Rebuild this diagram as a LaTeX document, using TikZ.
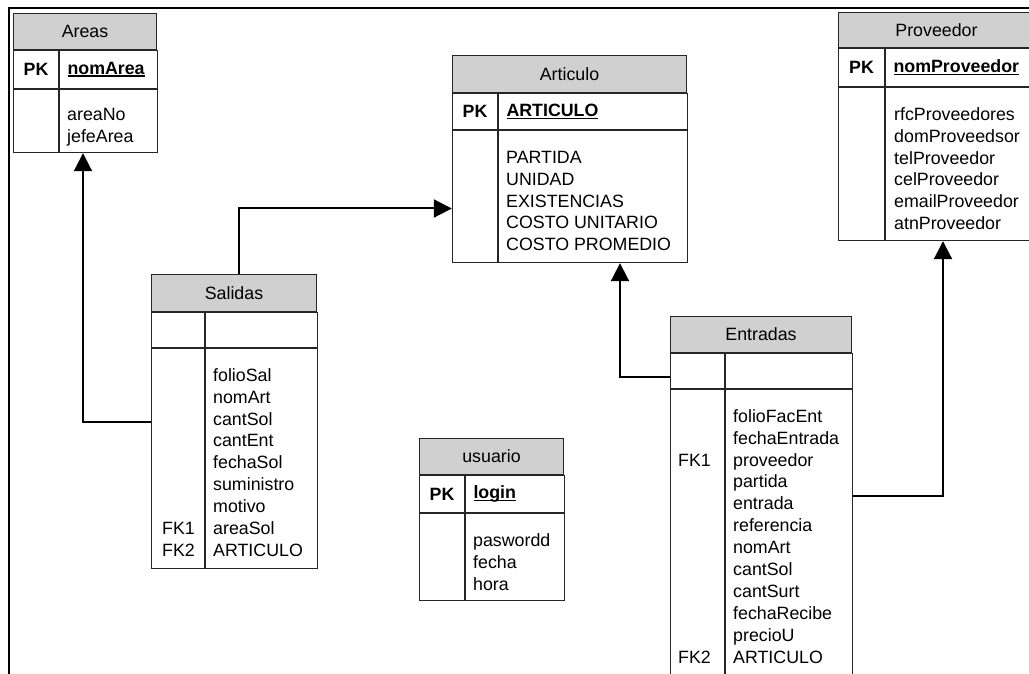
\documentclass[tikz,border=0pt]{standalone}
\usepackage{fontspec}
\setmainfont{Liberation Sans}
\usetikzlibrary{positioning,fit,arrows.meta}
\definecolor{headgray}{RGB}{208,208,208}
\newcommand{\pkfield}[1]{\setbox0=\hbox{\bfseries#1}\rlap{\rule[-2.6pt]{\wd0}{1.5pt}}\box0}

\begin{document}
\begin{tikzpicture} [
       x=1pt, y=-1pt,
       font=\fontsize{17.8pt}{21.9pt}\selectfont,
       header/.style={draw=black!85, fill=headgray, line width=1pt, inner sep=0pt, anchor=north west},
       cell/.style={draw=black!85, line width=1pt, inner sep=0pt},
       keycell/.style={cell, align=left, inner xsep=8pt},
       fields/.style={align=left, inner sep=0pt},
       tablebox/.style={inner sep=0pt},
       line/.style={draw, line width=2pt, -{Triangle[length=18pt, width=18pt]}},
       ]
       \useasboundingbox (0,0) rectangle (1029,674);
       \draw[line width=2pt] (9,674) -- (9,8) -- (1029,8);

       \node (areas) [header, minimum width=143pt, minimum height=36pt] at (13,13) {Areas};
       \node (areas-pk) [cell, minimum width=45pt, minimum height=38pt, below right=0pt and 0pt of areas.south west] {\textbf{PK}};
       \node (areas-key) [keycell, text width=82pt, minimum height=38pt, right=0pt of areas-pk] {\pkfield{nomArea}};
       \node (areas-fk) [cell, minimum width=45pt, minimum height=63pt, below=0pt of areas-pk] {};
       \node (areas-attr) [cell, minimum width=98pt, minimum height=63pt, below=0pt of areas-key] {};
       \node (areas-list) [fields, below right=16pt and 8pt of areas-attr.north west] {\strut areaNo\\jefeArea};
       \node (areas-box) [tablebox, fit=(areas)(areas-fk)(areas-attr)] {};

       \node (articulo) [header, minimum width=234pt, minimum height=37pt] at (452,55) {Articulo};
       \node (articulo-pk) [cell, minimum width=45pt, minimum height=36pt, below right=0pt and 0pt of articulo.south west] {\textbf{PK}};
       \node (articulo-key) [keycell, text width=173pt, minimum height=36pt, right=0pt of articulo-pk] {\pkfield{ARTICULO}};
       \node (articulo-fk) [cell, minimum width=45pt, minimum height=132pt, below=0pt of articulo-pk] {};
       \node (articulo-attr) [cell, minimum width=189pt, minimum height=132pt, below=0pt of articulo-key] {};
       \node (articulo-list) [fields, below right=17.7pt and 8pt of articulo-attr.north west] {\strut PARTIDA\\UNIDAD\\EXISTENCIAS\\COSTO UNITARIO\\COSTO PROMEDIO};
       \node (articulo-box) [tablebox, fit=(articulo)(articulo-fk)(articulo-attr)] {};

       \node (proveedor) [header, minimum width=196pt, minimum height=35pt] at (838,12) {Proveedor};
       \node (proveedor-pk) [cell, minimum width=46pt, minimum height=38pt, below right=0pt and 0pt of proveedor.south west] {\textbf{PK}};
       \node (proveedor-key) [keycell, text width=134pt, minimum height=38pt, right=0pt of proveedor-pk] {\pkfield{nomProveedor}};
       \node (proveedor-fk) [cell, minimum width=46pt, minimum height=153pt, below=0pt of proveedor-pk] {};
       \node (proveedor-attr) [cell, minimum width=150pt, minimum height=153pt, below=0pt of proveedor-key] {};
       \node (proveedor-list) [fields, below right=17.7pt and 9pt of proveedor-attr.north west] {\strut rfcProveedores\\domProveedsor\\telProveedor\\celProveedor\\emailProveedor\\atnProveedor};
       \node (proveedor-box) [tablebox, fit=(proveedor)(proveedor-fk)(proveedor-attr)] {};

       \node (usuario) [header, minimum width=144pt, minimum height=36pt] at (419,438) {usuario};
       \node (usuario-pk) [cell, minimum width=45pt, minimum height=37pt, below right=0pt and 0pt of usuario.south west] {\textbf{PK}};
       \node (usuario-key) [keycell, text width=83pt, minimum height=37pt, right=0pt of usuario-pk] {\pkfield{login}};
       \node (usuario-fk) [cell, minimum width=45pt, minimum height=87pt, below=0pt of usuario-pk] {};
       \node (usuario-attr) [cell, minimum width=99pt, minimum height=87pt, below=0pt of usuario-key] {};
       \node (usuario-list) [fields, below right=17.7pt and 8pt of usuario-attr.north west] {\strut paswordd\\fecha\\hora};

       \node (salidas) [header, minimum width=165pt, minimum height=37pt] at (151,274) {Salidas};
       \node (salidas-pk) [cell, minimum width=53pt, minimum height=35pt, below right=0pt and 0pt of salidas.south west] {};
       \node (salidas-key) [keycell, text width=96pt, minimum height=35pt, right=0pt of salidas-pk] {};
       \node (salidas-fk) [cell, minimum width=53pt, minimum height=220pt, below=0pt of salidas-pk] {};
       \node (salidas-attr) [cell, minimum width=112pt, minimum height=220pt, below=0pt of salidas-key] {};
       \node (salidas-keys) [fields, below right=17.7pt and 11pt of salidas-fk.north west] {\strut\\~\\~\\~\\~\\~\\~\\FK1\\FK2};
       \node (salidas-list) [fields, below right=17.7pt and 8pt of salidas-attr.north west] {\strut folioSal\\nomArt\\cantSol\\cantEnt\\fechaSol\\suministro\\motivo\\areaSol\\ARTICULO};
       \node (salidas-box) [tablebox, fit=(salidas)(salidas-fk)(salidas-attr)] {};

       \node (entradas) [header, minimum width=181pt, minimum height=36pt] at (670,316) {Entradas};
       \node (entradas-pk) [cell, minimum width=54pt, minimum height=35pt, below right=0pt and 0pt of entradas.south west] {};
       \node (entradas-key) [keycell, text width=111pt, minimum height=35pt, right=0pt of entradas-pk] {};
       \node (entradas-fk) [cell, minimum width=54pt, minimum height=286pt, below=0pt of entradas-pk] {};
       \node (entradas-attr) [cell, minimum width=127pt, minimum height=286pt, below=0pt of entradas-key] {};
       \node (entradas-keys) [fields, below right=17.7pt and 8pt of entradas-fk.north west] {\strut\\~\\FK1\\~\\~\\~\\~\\~\\~\\~\\~\\FK2};
       \node (entradas-list) [fields, below right=17.7pt and 8pt of entradas-attr.north west] {\strut folioFacEnt\\fechaEntrada\\proveedor\\partida\\entrada\\referencia\\nomArt\\cantSol\\cantSurt\\fechaRecibe\\precioU\\ARTICULO};
       \node (entradas-box) [tablebox, fit=(entradas)(entradas-fk)(entradas-attr)] {};

        \begin{scope}[every path/.style=line]
        \path (salidas-box.west) -| ([xshift=-2.5pt]areas-box.south);
        \path ([xshift=4.5pt]salidas-box.north) |- ([yshift=-49.5pt]articulo-box.west);
        \path ([yshift=-5.5pt]entradas-pk.west) -| ([xshift=50pt]articulo-box.south);
        \path (entradas-box.east) -| ([xshift=6pt]proveedor-box.south);
\end{scope}
\end{tikzpicture}
\end{document}
